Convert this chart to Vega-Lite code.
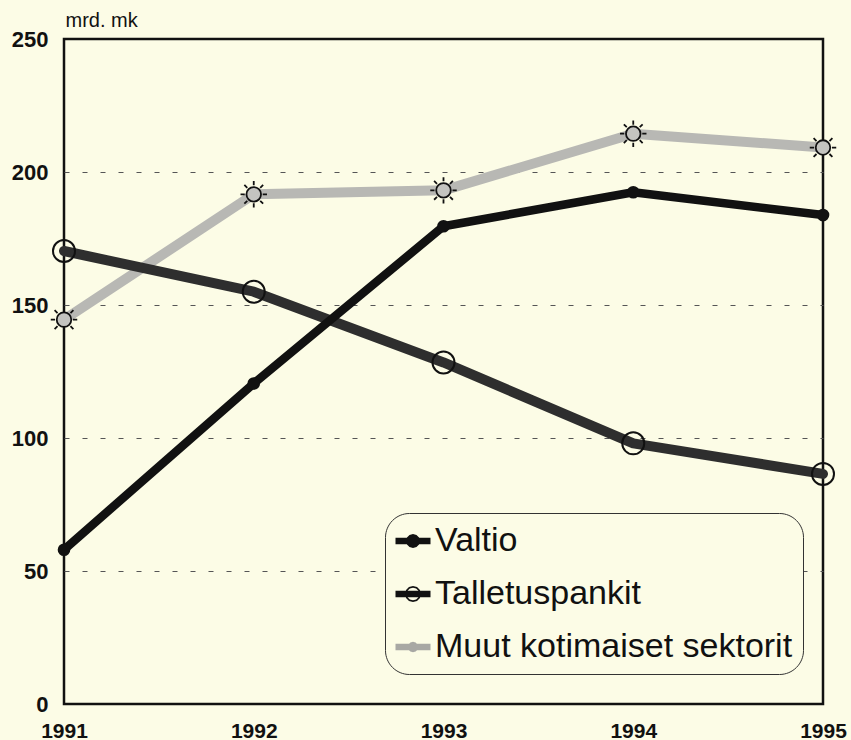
{
  "$schema": "https://vega.github.io/schema/vega-lite/v6.json",
  "width": 759,
  "height": 665,
  "autosize": {"type": "none"},
  "padding": {"left": 64, "top": 39, "right": 28, "bottom": 36},
  "background": "#fcfce6",
  "config": {
    "view": {"stroke": "#111", "strokeWidth": 2.5},
    "font": "Liberation Sans"
  },
  "data": {
    "values": [
      {"vuosi": 1991, "sektori": "Muut kotimaiset sektorit", "nimi": "Muut kotimaiset sektorit", "arvo": 144.5},
      {"vuosi": 1992, "sektori": "Muut kotimaiset sektorit", "nimi": "Muut kotimaiset sektorit", "arvo": 191.6},
      {"vuosi": 1993, "sektori": "Muut kotimaiset sektorit", "nimi": "Muut kotimaiset sektorit", "arvo": 193.1},
      {"vuosi": 1994, "sektori": "Muut kotimaiset sektorit", "nimi": "Muut kotimaiset sektorit", "arvo": 214.4},
      {"vuosi": 1995, "sektori": "Muut kotimaiset sektorit", "nimi": "Muut kotimaiset sektorit", "arvo": 209.2},
      {"vuosi": 1991, "sektori": "Talletuspankit", "nimi": "Talletuspankit", "arvo": 170.3},
      {"vuosi": 1992, "sektori": "Talletuspankit", "nimi": "Talletuspankit", "arvo": 155.0},
      {"vuosi": 1993, "sektori": "Talletuspankit", "nimi": "Talletuspankit", "arvo": 128.4},
      {"vuosi": 1994, "sektori": "Talletuspankit", "nimi": "Talletuspankit", "arvo": 98.0},
      {"vuosi": 1995, "sektori": "Talletuspankit", "nimi": "Talletuspankit", "arvo": 86.5},
      {"vuosi": 1991, "sektori": "Valtio", "nimi": "Valtio", "arvo": 58.0},
      {"vuosi": 1992, "sektori": "Valtio", "nimi": "Valtio", "arvo": 120.5},
      {"vuosi": 1993, "sektori": "Valtio", "nimi": "Valtio", "arvo": 179.6},
      {"vuosi": 1994, "sektori": "Valtio", "nimi": "Valtio", "arvo": 192.4},
      {"vuosi": 1995, "sektori": "Valtio", "nimi": "Valtio", "arvo": 183.8}
    ]
  },
  "encoding": {
    "x": {
      "field": "vuosi", "type": "quantitative",
      "scale": {"domain": [1991, 1995], "nice": false, "zero": false},
      "axis": {
        "values": [1991, 1992, 1993, 1994, 1995], "format": "d",
        "title": null, "grid": false, "domain": false, "ticks": false,
        "labelFont": "Liberation Sans", "labelFontWeight": "bold", "labelFontSize": 21,
        "labelColor": "#111", "labelPadding": 16, "labelBaseline": "top", "labelFlush": false
      }
    },
    "y": {
      "field": "arvo", "type": "quantitative",
      "scale": {"domain": [0, 250], "nice": false},
      "axis": {
        "values": [0, 50, 100, 150, 200, 250],
        "title": "mrd. mk", "titleAngle": 0, "titleX": 1, "titleY": -13,
        "titleAlign": "left", "titleBaseline": "alphabetic",
        "titleFont": "Liberation Sans", "titleFontWeight": "normal", "titleFontSize": 20, "titleColor": "#111",
        "domain": false, "ticks": false,
        "labelFont": "Liberation Sans", "labelFontWeight": "bold", "labelFontSize": 22,
        "labelColor": "#111", "labelPadding": 16, "labelFlush": false,
        "grid": true, "gridColor": "#555", "gridWidth": 1, "gridDash": [5, 13],
        "gridOpacity": {"condition": {"test": "datum.value == 0 || datum.value == 250", "value": 0}, "value": 1}
      }
    }
  },
  "layer": [
    {
      "mark": {"type": "point", "opacity": 1, "size": 1, "filled": true, "stroke": "#111111", "strokeWidth": 1},
      "encoding": {
        "shape": {
          "field": "nimi", "type": "nominal",
          "scale": {
            "domain": ["Valtio", "Talletuspankit", "Muut kotimaiset sektorit"],
            "range": [
              "M -1 -0.18 L 1 -0.18 L 1 0.18 L -1 0.18 Z M 0.4 0 L 0.346 0.2 L 0.2 0.346 L 0 0.4 L -0.2 0.346 L -0.346 0.2 L -0.4 0 L -0.346 -0.2 L -0.2 -0.346 L 0 -0.4 L 0.2 -0.346 L 0.346 -0.2 Z",
              "M -1 -0.18 L 1 -0.18 L 1 0.18 L -1 0.18 Z M 0.46 0 L 0.398 0.23 L 0.23 0.398 L 0 0.46 L -0.23 0.398 L -0.398 0.23 L -0.46 0 L -0.398 -0.23 L -0.23 -0.398 L 0 -0.46 L 0.23 -0.398 L 0.398 -0.23 Z M 0.36 0 L 0.312 -0.18 L 0.18 -0.312 L 0 -0.36 L -0.18 -0.312 L -0.312 -0.18 L -0.36 0 L -0.312 0.18 L -0.18 0.312 L 0 0.36 L 0.18 0.312 L 0.312 0.18 Z",
              "M -1 -0.18 L 1 -0.18 L 1 0.18 L -1 0.18 Z M 0.3 0 L 0.26 0.15 L 0.15 0.26 L 0 0.3 L -0.15 0.26 L -0.26 0.15 L -0.3 0 L -0.26 -0.15 L -0.15 -0.26 L 0 -0.3 L 0.15 -0.26 L 0.26 -0.15 Z M 0 -0.36 L 0 -0.56 M 0 0.36 L 0 0.56 M 0.26 0.26 L 0.4 0.4 M -0.26 0.26 L -0.4 0.4 M 0.26 -0.26 L 0.4 -0.4 M -0.26 -0.26 L -0.4 -0.4"
            ]
          },
          "legend": {
            "orient": "none", "legendX": 321, "legendY": 474, "title": null,
            "labelFont": "Liberation Sans", "labelFontSize": 34, "labelColor": "#111", "labelLimit": 500,
            "symbolSize": 1225, "symbolStrokeWidth": 1, "symbolStrokeColor": "#111111", "symbolOpacity": 1, "rowPadding": 18, "labelOffset": 4,
            "padding": 10, "strokeColor": "#333", "cornerRadius": 24, "fillColor": "#fcfce6"
          }
        },
        "fill": {
          "field": "nimi", "type": "nominal",
          "scale": {"domain": ["Valtio", "Talletuspankit", "Muut kotimaiset sektorit"], "range": ["#111111", "#111111", "#a8a8a4"]}
        }
      }
    },
    {
      "transform": [{"filter": "datum.sektori === 'Muut kotimaiset sektorit'"}],
      "mark": {"type": "line", "color": "#b8b8b4", "strokeWidth": 10, "strokeCap": "round", "strokeJoin": "round"}
    },
    {
      "transform": [{"filter": "datum.sektori === 'Talletuspankit'"}],
      "mark": {"type": "line", "color": "#2e2e2e", "strokeWidth": 10, "strokeCap": "round", "strokeJoin": "round"}
    },
    {
      "transform": [{"filter": "datum.sektori === 'Valtio'"}],
      "mark": {"type": "line", "color": "#111111", "strokeWidth": 8.5, "strokeCap": "round", "strokeJoin": "round"}
    },
    {
      "transform": [{"filter": "datum.sektori === 'Valtio'"}],
      "mark": {"type": "point", "shape": "circle", "filled": true, "color": "#111111", "size": 160, "opacity": 1}
    },
    {
      "transform": [{"filter": "datum.sektori === 'Talletuspankit'"}],
      "mark": {"type": "point", "shape": "circle", "filled": false, "stroke": "#111111", "strokeWidth": 2, "size": 484, "opacity": 1}
    },
    {
      "transform": [{"filter": "datum.sektori === 'Muut kotimaiset sektorit'"}],
      "mark": {
        "type": "point", "filled": true, "fill": "#c4c4c0", "stroke": "#111111", "strokeWidth": 1.8, "size": 700, "opacity": 1,
        "shape": "M -0.55 0 A 0.55 0.55 0 1 0 0.55 0 A 0.55 0.55 0 1 0 -0.55 0 Z M 0 -0.68 L 0 -1 M 0 0.68 L 0 1 M -0.68 0 L -1 0 M 0.68 0 L 1 0 M 0.49 0.49 L 0.71 0.71 M -0.49 0.49 L -0.71 0.71 M 0.49 -0.49 L 0.71 -0.71 M -0.49 -0.49 L -0.71 -0.71"
      }
    }
  ]
}
